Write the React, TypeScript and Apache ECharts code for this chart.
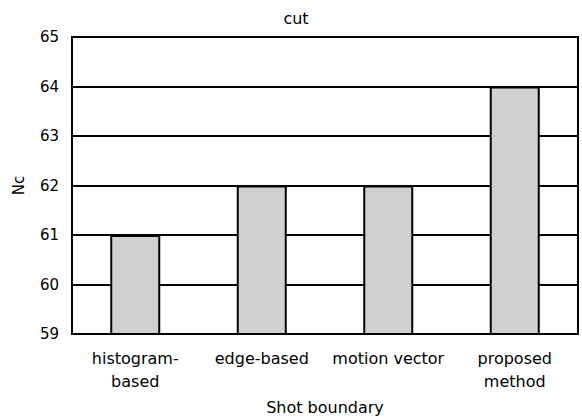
import React, { useEffect, useRef } from "react";
import * as echarts from "echarts";

const categories = ["histogram-\nbased", "edge-based", "motion vector", "proposed\nmethod"];
const values = [61, 62, 62, 64];
const yMin = 59;
const yMax = 65;

export default function App() {
  const ref = useRef<HTMLDivElement>(null);
  useEffect(() => {
    const chart = echarts.init(ref.current!, undefined, { renderer: "svg" });
    const font = "'DejaVu Sans', sans-serif";
    chart.setOption({
      animation: false,
      backgroundColor: "#fff",
      title: {
        text: "cut",
        left: 291,
        textAlign: "center",
        top: 5,
        textStyle: { fontFamily: font, fontSize: 16, fontWeight: "normal", color: "#000" },
      },
      grid: {
        left: 72,
        right: 4,
        top: 37,
        bottom: 85,
        outerBoundsMode: "none",
        containLabel: false,
        show: true,
        borderColor: "#000",
        borderWidth: 2,
      },
      xAxis: {
        type: "category",
        data: categories,
        name: "Shot boundary",
        nameLocation: "middle",
        nameGap: 65,
        nameTextStyle: { fontFamily: font, fontSize: 16, color: "#000" },
        axisLine: { lineStyle: { color: "#000", width: 2 } },
        axisTick: { show: false },
        axisLabel: {
          fontFamily: font,
          fontSize: 16,
          color: "#000",
          margin: 13,
          lineHeight: 23,
          interval: 0,
        },
      },
      yAxis: {
        type: "value",
        min: yMin,
        max: yMax,
        interval: 1,
        name: "Nc",
        nameLocation: "middle",
        nameGap: 46,
        nameTextStyle: { fontFamily: font, fontSize: 15, color: "#000" },
        axisLine: { show: true, lineStyle: { color: "#000", width: 2 } },
        axisTick: { show: false },
        axisLabel: { fontFamily: font, fontSize: 15, color: "#000", margin: 13 },
        splitLine: { show: true, lineStyle: { color: "#000", width: 2 } },
      },
      series: [
        {
          type: "bar",
          data: values,
          barWidth: 50,
          itemStyle: { color: "#d0d0d0", borderColor: "#000", borderWidth: 2 },
        },
      ],
    });
    return () => chart.dispose();
  }, []);
  return <div ref={ref} style={{ width: 582, height: 419, position: "absolute", left: 0, top: 0 }} />;
}
